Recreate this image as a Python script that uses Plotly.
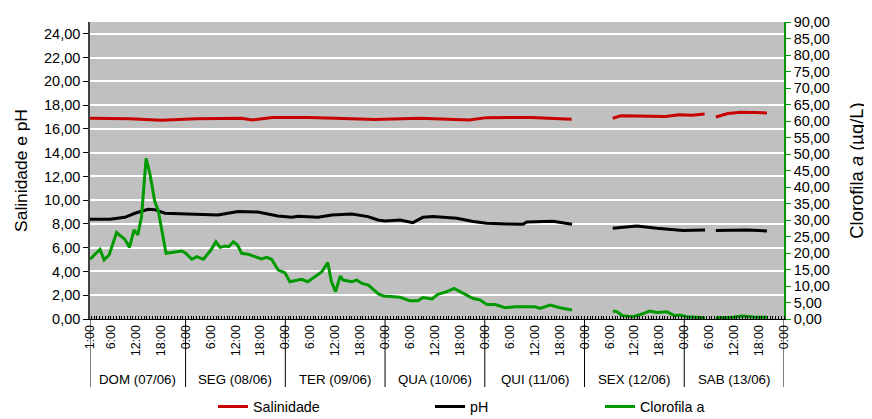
import plotly.graph_objects as go

# ---- data (hours counted from DOM 07/06 1:00) ----
days = ["DOM (07/06)", "SEG (08/06)", "TER (09/06)", "QUA (10/06)",
        "QUI (11/06)", "SEX (12/06)", "SAB (13/06)"]
day_bounds = [0, 23, 47, 71, 95, 119, 143, 167]
tick_hours = [0, 5, 11, 17, 23, 29, 35, 41, 47, 53, 59, 65, 71, 77, 83, 89,
              95, 101, 107, 113, 119, 125, 131, 137, 143, 149, 155, 161, 167]
tick_text = ["1:00", "6:00", "12:00", "18:00"] + ["0:00", "6:00", "12:00", "18:00"] * 6 + ["0:00"]

sal_h = [0, 9.5, 17.1, 25.6, 36.4, 39.1, 43.9, 52.5, 59, 68.6, 79.4, 91.2, 95.5, 106.2, 115.9,
         120,
         125.8, 127.7, 138.5, 141.7, 144.9, 147.9,
         149,
         150.6, 153.5, 156.7, 162.9]
sal_v = [16.9, 16.85, 16.73, 16.85, 16.9, 16.76, 16.97, 16.97, 16.9, 16.8, 16.9, 16.76, 16.95, 16.97, 16.82,
         None,
         16.9, 17.1, 17.05, 17.2, 17.15, 17.25,
         None,
         17.0, 17.3, 17.4, 17.35]

ph_h = [0, 2.4, 4.8, 8.4, 10.8, 14.0, 15.6, 18.0, 22.9, 30.8, 35.6, 40.4, 45.2, 48.6, 50.0, 54.9,
        58.2, 63.0, 66.9, 69.3, 71.0, 74.6, 77.7, 80.1, 82.5, 88.3, 92.2, 95.5, 100.3, 104.2,
        105.1, 111.4, 116.0,
        120,
        125.8, 131.6, 136.4, 142.7, 148.0,
        149,
        150.6, 158.1, 162.9]
ph_v = [8.39, 8.42, 8.4, 8.56, 8.9, 9.24, 9.2, 8.9, 8.85, 8.76, 9.04, 9.0, 8.67, 8.56, 8.65, 8.56,
        8.76, 8.84, 8.62, 8.34, 8.25, 8.34, 8.11, 8.56, 8.62, 8.48, 8.2, 8.06, 8.0, 7.97,
        8.17, 8.23, 7.97,
        None,
        7.63, 7.83, 7.64, 7.44, 7.5,
        None,
        7.44, 7.5, 7.41]

chl_h = [0, 2.4, 3.4, 4.6, 6.4, 8.4, 9.5, 10.6, 11.5, 12.4, 13.5, 14.4, 15.6, 16.4, 18.3, 19.7,
         22.1, 22.9, 24.5, 25.7, 27.3, 29.1, 30.3, 31.3, 32.5, 33.4, 34.5, 35.5, 36.5, 38.1,
         39.7, 41.3, 42.5, 43.7, 45.3, 46.9, 48.1, 50.9, 52.4, 54.1, 55.8, 57.2, 58.1, 59.1,
         60.2, 60.9, 62.2, 63.0, 64.2, 65.4, 67.0, 69.4, 70.6, 74.6, 77.0, 78.9, 80.1, 82.3,
         83.7, 85.9, 87.6, 90.2, 92.2, 93.8, 95.5, 97.5, 99.9, 102.3, 105.1, 107.1, 108.3,
         110.7, 113.1, 116.0,
         120,
         125.8, 126.8, 128.2, 130.7, 132.8, 134.7, 136.4, 138.8, 140.7, 141.9, 143.6, 148.0,
         149,
         150.6, 154.7, 156.9, 159.5, 162.9]
chl_v = [18.1, 21.1, 17.9, 19.4, 26.2, 24.1, 21.7, 27.0, 25.5, 31.0, 48.7, 44.1, 35.5, 33.0, 19.9, 20.2,
         20.6, 20.1, 18.1, 18.9, 18.1, 20.9, 23.4, 21.7, 22.1, 21.9, 23.4, 22.4, 19.9, 19.6,
         18.9, 18.2, 18.7, 18.1, 14.8, 14.0, 11.3, 12.0, 11.3, 12.8, 14.3, 17.1, 11.3, 8.3,
         13.0, 11.8, 11.6, 11.3, 11.8, 10.8, 10.3, 7.6, 7.0, 6.6, 5.5, 5.5, 6.5, 6.1,
         7.5, 8.3, 9.3, 7.5, 6.2, 5.8, 4.4, 4.4, 3.4, 3.7, 3.7, 3.7, 3.2,
         4.2, 3.4, 2.7,
         None,
         2.4, 2.2, 1.0, 0.7, 1.5, 2.4, 2.0, 2.2, 1.0, 1.2, 0.7, 0.4,
         None,
         0.4, 0.5, 0.9, 0.6, 0.5]

FONT = "Liberation Sans, Arial, sans-serif"
RED = "#C80000"
GREEN = "#009A00"

fig = go.Figure()
fig.add_trace(go.Scatter(x=sal_h, y=sal_v, mode="lines", name="Salinidade",
                         line=dict(color=RED, width=3), connectgaps=False, legend="legend"))
fig.add_trace(go.Scatter(x=ph_h, y=ph_v, mode="lines", name="pH",
                         line=dict(color="black", width=3), connectgaps=False, legend="legend2"))
fig.add_trace(go.Scatter(x=chl_h, y=chl_v, mode="lines", name="Clorofila a", yaxis="y2",
                         line=dict(color=GREEN, width=3), connectgaps=False, legend="legend3"))

# day separators and labels below the axis
for b in day_bounds:
    fig.add_shape(type="line", xref="x", yref="paper", x0=b, x1=b, y0=0, y1=-0.229,
                  line=dict(color="black", width=1))
for i, d in enumerate(days):
    fig.add_annotation(x=(day_bounds[i] + day_bounds[i + 1]) / 2, xref="x", y=-0.205, yref="paper",
                       text=d, showarrow=False, font=dict(size=13.3, color="black", family=FONT),
                       yanchor="middle")

leg_common = dict(orientation="h", yanchor="middle", y=-0.295, xanchor="left",
                  font=dict(size=14.3, color="black", family=FONT), bgcolor="rgba(0,0,0,0)")

fig.update_layout(
    width=872, height=419,
    margin=dict(l=82, r=96, t=14, b=108, autoexpand=False),
    paper_bgcolor="white", plot_bgcolor="#C0C0C0",
    separators=",.",
    font=dict(family=FONT, size=14, color="black"),
    showlegend=True,
    legend=dict(x=(255 - 42 - 90) / 694, **leg_common),
    legend2=dict(x=(472 - 42 - 90) / 694, **leg_common),
    legend3=dict(x=(642 - 42 - 90) / 694, **leg_common),
    xaxis=dict(range=[0, 167], tickvals=tick_hours, ticktext=tick_text, tickangle=-90,
               ticks="", showgrid=False, zeroline=False, showline=True, linecolor="black",
               linewidth=1, tickfont=dict(size=12.5, family=FONT), automargin=False,
               minor=dict(dtick=24 / 36, tick0=23, ticks="inside", ticklen=3,
                          tickcolor="black", showgrid=False)),
    yaxis=dict(title=dict(text="Salinidade e pH", font=dict(size=17.4, family=FONT), standoff=12),
               range=[0, 25], tickvals=[0, 2, 4, 6, 8, 10, 12, 14, 16, 18, 20, 22, 24],
               tickformat=".2f", ticks="outside", ticklen=5, tickcolor="black",
               showline=True, linecolor="#404040", linewidth=1.5, automargin=False,
               gridcolor="white", gridwidth=1.5, zeroline=False,
               tickfont=dict(size=14.5, family=FONT)),
    yaxis2=dict(title=dict(text="Clorofila <i>a</i> (µg/L)", font=dict(size=18.4, family=FONT), standoff=21),
                range=[0, 90], dtick=5, tick0=0, tickformat=".2f", overlaying="y", side="right",
                ticks="outside", ticklen=5, tickcolor=GREEN, showline=True, linecolor=GREEN,
                linewidth=1.5, showgrid=False, zeroline=False, automargin=False,
                tickfont=dict(size=14.5, family=FONT)),
)

fig.write_html("out.html")
